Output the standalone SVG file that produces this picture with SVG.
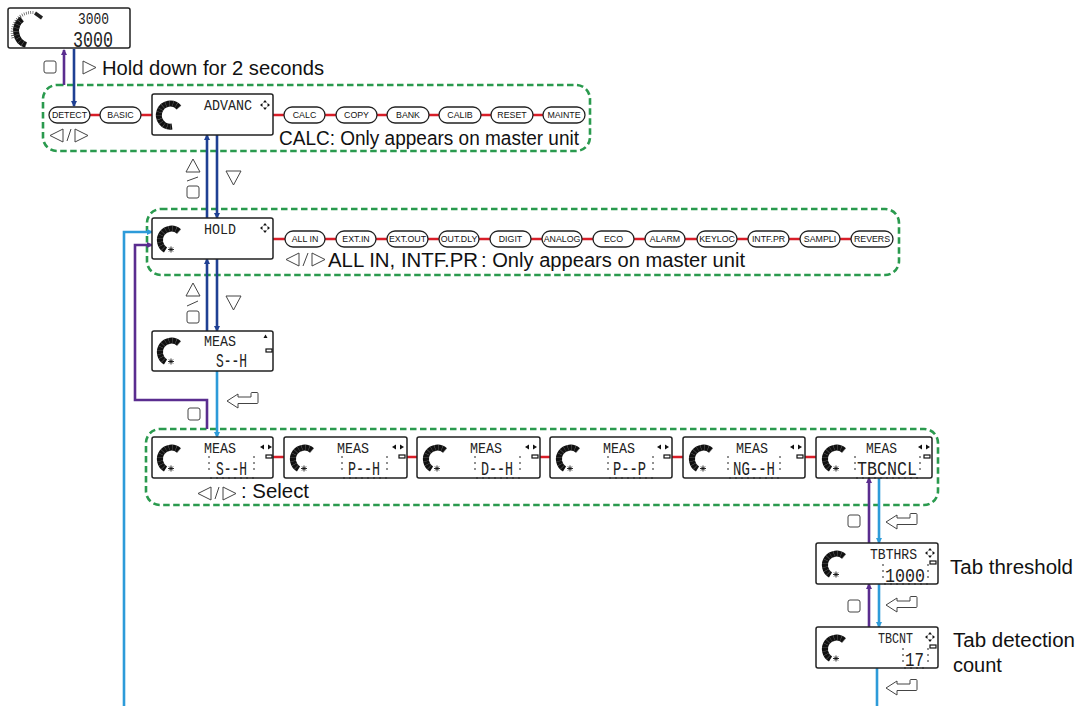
<svg xmlns="http://www.w3.org/2000/svg" width="1078" height="706" viewBox="0 0 1078 706">
<style>
text{font-family:"Liberation Sans",Arial,sans-serif;fill:#111}
.lbl{font-size:20px}
.pill{font-size:8.800px;text-anchor:middle}
.lcd{font-family:"Liberation Mono",monospace;fill:#222}
.t{font-size:14px}
.v{font-size:20px}
.box{fill:#fff;stroke:#222;stroke-width:1.500}
.ov{fill:#fff;stroke:#222;stroke-width:1.300}
.grp{fill:none;stroke:#2a9a4e;stroke-width:2.600;stroke-dasharray:6.500 3.500}
.red{stroke:#d81e28;stroke-width:2.600;fill:none}
.navy{stroke:#1f4093;stroke-width:2.600;fill:none}
.pur{stroke:#5a2d8f;stroke-width:2.600;fill:none}
.sky{stroke:#2d9bd9;stroke-width:2.600;fill:none}
.ic{fill:#fff;stroke:#444;stroke-width:1;stroke-linejoin:round}
.sl{stroke:#444;stroke-width:1;fill:none}
.gauge{fill:none;stroke:#111;stroke-width:6}
.gt{fill:none;stroke:#999;stroke-width:6;stroke-dasharray:.3 3.200}
.star{stroke:#111;stroke-width:.9;fill:none}
.fl{stroke:#222;stroke-width:1;fill:none;stroke-dasharray:2 4}
.k{fill:#111;stroke:none}
.r{fill:#fff;stroke:#111;stroke-width:1.200}
</style>
<defs>
<marker id="mN" markerWidth="6" markerHeight="6" refX="5" refY="3" orient="auto" markerUnits="userSpaceOnUse"><path d="M0 0L6 3L0 6Z" fill="#1f4093"/></marker>
<marker id="mP" markerWidth="6" markerHeight="6" refX="5" refY="3" orient="auto" markerUnits="userSpaceOnUse"><path d="M0 0L6 3L0 6Z" fill="#5a2d8f"/></marker>
<marker id="mS" markerWidth="6" markerHeight="6" refX="5" refY="3" orient="auto" markerUnits="userSpaceOnUse"><path d="M0 0L6 3L0 6Z" fill="#2d9bd9"/></marker>
<g id="g"><path class="gauge" d="M27 13.500A11.500 11.500 0 1 0 13.500 32"/><path class="gt" d="M27 13.500A11.500 11.500 0 1 0 13.500 32"/><path class="star" d="M16 31.500h6M19 28.500v6M17 29.500l4 4M21 29.500l-4 4"/></g>
<g id="g2"><path class="gauge" d="M27 13.500A11.500 11.500 0 1 0 20 32.500"/><path class="gt" d="M27 13.500A11.500 11.500 0 1 0 20 32.500"/></g>
<rect id="sq" class="ic" width="12" height="12" rx="2"/>
<path id="up" class="ic" d="M7 0L14 13H0Z"/>
<path id="dn" class="ic" d="M0 0H15L7.500 14Z"/>
<path id="rt" class="ic" d="M0 0L13 6.500L0 13Z"/>
<path id="lf" class="ic" d="M13 0L0 6.500L13 13Z"/>
<path id="en" class="ic" d="M0 0L11 -7V-4H24V-7.500Q24 -8.500 25 -8.500H30Q31 -8.500 31 -7.500V1.500Q31 2.500 30 2.500H11V7Z"/>
<g id="lr"><path class="k" d="M0 3L4 .5V5.500Z"/><path class="k" d="M8 .5L12 3L8 5.500Z"/></g>
<g id="four"><path class="k" d="M5 0L7 2.500H3ZM5 10L7 7.500H3ZM0 5L2.500 3V7ZM10 5L7.500 3V7Z"/></g>
<rect id="rtn" class="r" width="6" height="3"/>
</defs>

<g id="groups">
<rect class="grp" x="43" y="85" width="547" height="66" rx="14"/>
<rect class="grp" x="147" y="209" width="752" height="66" rx="14"/>
<rect class="grp" x="146" y="429" width="792" height="76" rx="14"/>
</g>

<g id="connectors">
<path class="red" d="M90 115H100M141 115H152M273 115H284M325 115H336M377 115H387M429 115H439M481 115H491M533 115H543"/>
<path class="red" d="M273 239H285M325 239H336M376 239H387M428 239H439M479 239H490M531 239H542M582 239H593M634 239H645M685 239H697M737 239H748M789 239H800M840 239H851"/>
<path class="red" d="M273 457H284M407 457H417M540 457H550M672 457H683M805 457H816"/>
<path class="pur" d="M64 85V50" marker-end="url(#mP)"/>
<path class="navy" d="M74 49V106" marker-end="url(#mN)"/>
<path class="navy" d="M207 218V135" marker-end="url(#mN)"/>
<path class="navy" d="M217 135V218" marker-end="url(#mN)"/>
<path class="navy" d="M207 331V259" marker-end="url(#mN)"/>
<path class="navy" d="M217 259V331" marker-end="url(#mN)"/>
<path class="sky" d="M217 371V437" marker-end="url(#mS)"/>
<path class="pur" d="M207 429V400H135V245H152" marker-end="url(#mP)"/>
<path class="sky" d="M124 706V232H152" marker-end="url(#mS)"/>
<path class="pur" d="M869 543V478" marker-end="url(#mP)"/>
<path class="sky" d="M879 478V543" marker-end="url(#mS)"/>
<path class="pur" d="M869 627V584" marker-end="url(#mP)"/>
<path class="sky" d="M879 584V627" marker-end="url(#mS)"/>
<path class="sky" d="M877 668V706"/>
</g>

<g id="node-monitor">
<rect class="box" x="8" y="8" width="122" height="40" rx="2"/>
<path class="gauge" d="M22 19A15 15 0 0 0 26 45"/>
<path class="gt" d="M22 19A15 15 0 0 0 26 45"/>
<path fill="none" stroke="#333" stroke-width="3" stroke-dasharray=".6 1.600" d="M13 38A20 20 0 0 1 34 12.500"/>
<path fill="none" stroke="#222" stroke-width="3.500" d="M35 13L42 18"/>
<text class="lcd" x="78" y="24" font-size="16" textLength="31" lengthAdjust="spacingAndGlyphs">3000</text>
<text class="lcd" x="73" y="47" font-size="22" textLength="40" lengthAdjust="spacingAndGlyphs">3000</text>
</g>

<g id="node-advanc">
<rect class="box" x="152" y="94" width="121" height="41" rx="2"/>
<use href="#g2" x="152" y="94"/>
<text class="lcd t" x="204" y="110" textLength="48" lengthAdjust="spacingAndGlyphs">ADVANC</text>
<use href="#four" x="260" y="100"/>
</g>

<g id="pills-a">
<g id="p-detect"><rect class="ov" x="49" y="107" width="41" height="16" rx="8"/><text class="pill" x="69.500" y="118">DETECT</text></g>
<g id="p-basic"><rect class="ov" x="100" y="107" width="41" height="16" rx="8"/><text class="pill" x="120.500" y="118">BASIC</text></g>
<g id="p-calc"><rect class="ov" x="284" y="107" width="41" height="16" rx="8"/><text class="pill" x="304.500" y="118">CALC</text></g>
<g id="p-copy"><rect class="ov" x="336" y="107" width="41" height="16" rx="8"/><text class="pill" x="356.500" y="118">COPY</text></g>
<g id="p-bank"><rect class="ov" x="387" y="107" width="42" height="16" rx="8"/><text class="pill" x="408" y="118">BANK</text></g>
<g id="p-calib"><rect class="ov" x="439" y="107" width="42" height="16" rx="8"/><text class="pill" x="460" y="118">CALIB</text></g>
<g id="p-reset"><rect class="ov" x="491" y="107" width="42" height="16" rx="8"/><text class="pill" x="512" y="118">RESET</text></g>
<g id="p-mainte"><rect class="ov" x="543" y="107" width="42" height="16" rx="8"/><text class="pill" x="564" y="118">MAINTE</text></g>
</g>

<g id="node-hold">
<rect class="box" x="152" y="218" width="121" height="41" rx="2"/>
<use href="#g" x="152" y="218"/>
<text class="lcd t" x="204" y="234" textLength="32" lengthAdjust="spacingAndGlyphs">HOLD</text>
<use href="#four" x="260" y="223"/>
</g>

<g id="pills-b">
<g id="p-allin"><rect class="ov" x="285" y="231" width="40" height="16" rx="8"/><text class="pill" x="305" y="242">ALL IN</text></g>
<g id="p-extin"><rect class="ov" x="336" y="231" width="40" height="16" rx="8"/><text class="pill" x="356" y="242">EXT.IN</text></g>
<g id="p-extout"><rect class="ov" x="387" y="231" width="41" height="16" rx="8"/><text class="pill" x="407.500" y="242">EXT.OUT</text></g>
<g id="p-outdly"><rect class="ov" x="439" y="231" width="40" height="16" rx="8"/><text class="pill" x="459" y="242">OUT.DLY</text></g>
<g id="p-digit"><rect class="ov" x="490" y="231" width="41" height="16" rx="8"/><text class="pill" x="510.500" y="242">DIGIT</text></g>
<g id="p-analog"><rect class="ov" x="542" y="231" width="40" height="16" rx="8"/><text class="pill" x="562" y="242">ANALOG</text></g>
<g id="p-eco"><rect class="ov" x="593" y="231" width="41" height="16" rx="8"/><text class="pill" x="613.500" y="242">ECO</text></g>
<g id="p-alarm"><rect class="ov" x="645" y="231" width="40" height="16" rx="8"/><text class="pill" x="665" y="242">ALARM</text></g>
<g id="p-keyloc"><rect class="ov" x="697" y="231" width="40" height="16" rx="8"/><text class="pill" x="717" y="242">KEYLOC</text></g>
<g id="p-intfpr"><rect class="ov" x="748" y="231" width="41" height="16" rx="8"/><text class="pill" x="768.500" y="242">INTF.PR</text></g>
<g id="p-sampli"><rect class="ov" x="800" y="231" width="40" height="16" rx="8"/><text class="pill" x="820" y="242">SAMPLI</text></g>
<g id="p-revers"><rect class="ov" x="851" y="231" width="42" height="16" rx="8"/><text class="pill" x="872" y="242">REVERS</text></g>
</g>

<g id="node-meas">
<rect class="box" x="152" y="331" width="121" height="40" rx="2"/>
<use href="#g" x="152" y="330"/>
<text class="lcd t" x="204" y="346" textLength="32" lengthAdjust="spacingAndGlyphs">MEAS</text>
<text class="lcd v" x="216" y="367" textLength="31" lengthAdjust="spacingAndGlyphs">S--H</text>
<path class="k" d="M263.500 338L265.500 334.500L267.500 338Z"/>
<use href="#rtn" x="266" y="349"/>
</g>

<g id="node-s1">
<rect class="box" x="152" y="437" width="121" height="41" rx="2"/>
<use href="#g" x="152" y="437"/>
<text class="lcd t" x="204" y="453" textLength="32" lengthAdjust="spacingAndGlyphs">MEAS</text>
<text class="lcd v" x="216" y="475" textLength="31" lengthAdjust="spacingAndGlyphs">S--H</text>
<path class="fl" d="M209 456V474M254 456V474M210 478H254"/>
<use href="#lr" x="260" y="444"/><use href="#rtn" x="266" y="455"/>
</g>
<g id="node-s2">
<rect class="box" x="284" y="437" width="123" height="41" rx="2"/>
<use href="#g" x="285" y="437"/>
<text class="lcd t" x="337" y="453" textLength="32" lengthAdjust="spacingAndGlyphs">MEAS</text>
<text class="lcd v" x="348" y="475" textLength="32" lengthAdjust="spacingAndGlyphs">P--H</text>
<path class="fl" d="M342 456V474M387 456V474M343 478H387"/>
<use href="#lr" x="392" y="444"/><use href="#rtn" x="399" y="455"/>
</g>
<g id="node-s3">
<rect class="box" x="417" y="437" width="123" height="41" rx="2"/>
<use href="#g" x="418" y="437"/>
<text class="lcd t" x="470" y="453" textLength="32" lengthAdjust="spacingAndGlyphs">MEAS</text>
<text class="lcd v" x="481" y="475" textLength="32" lengthAdjust="spacingAndGlyphs">D--H</text>
<path class="fl" d="M475 456V474M520 456V474M476 478H520"/>
<use href="#lr" x="525" y="444"/><use href="#rtn" x="532" y="455"/>
</g>
<g id="node-s4">
<rect class="box" x="550" y="437" width="122" height="41" rx="2"/>
<use href="#g" x="551" y="437"/>
<text class="lcd t" x="603" y="453" textLength="32" lengthAdjust="spacingAndGlyphs">MEAS</text>
<text class="lcd v" x="613" y="475" textLength="33" lengthAdjust="spacingAndGlyphs">P--P</text>
<path class="fl" d="M608 456V474M653 456V474M609 478H653"/>
<use href="#lr" x="657" y="444"/><use href="#rtn" x="664" y="455"/>
</g>
<g id="node-s5">
<rect class="box" x="683" y="437" width="122" height="41" rx="2"/>
<use href="#g" x="684" y="437"/>
<text class="lcd t" x="736" y="453" textLength="32" lengthAdjust="spacingAndGlyphs">MEAS</text>
<text class="lcd v" x="733" y="475" textLength="42" lengthAdjust="spacingAndGlyphs">NG--H</text>
<path class="fl" d="M728 456V474M780 456V474M729 478H780"/>
<use href="#lr" x="790" y="444"/><use href="#rtn" x="797" y="455"/>
</g>
<g id="node-s6">
<rect class="box" x="816" y="437" width="116" height="41" rx="2"/>
<use href="#g" x="817" y="437"/>
<text class="lcd t" x="866" y="453" textLength="31" lengthAdjust="spacingAndGlyphs">MEAS</text>
<text class="lcd v" x="857" y="475" textLength="60" lengthAdjust="spacingAndGlyphs">TBCNCL</text>
<path class="fl" d="M855 456V474M920 456V474M856 478H920"/>
<use href="#lr" x="918" y="444"/><use href="#rtn" x="924" y="455"/>
</g>

<g id="node-thrs">
<rect class="box" x="816" y="543" width="122" height="41" rx="2"/>
<use href="#g" x="817" y="543"/>
<text class="lcd t" x="870" y="559" textLength="47" lengthAdjust="spacingAndGlyphs">TBTHRS</text>
<text class="lcd v" x="885" y="582" textLength="40" lengthAdjust="spacingAndGlyphs">1000</text>
<path class="fl" d="M883 564V582M928 564V582M884 584H928"/>
<use href="#four" x="925" y="548"/><use href="#rtn" x="930" y="561"/>
</g>

<g id="node-cnt">
<rect class="box" x="816" y="627" width="122" height="41" rx="2"/>
<use href="#g" x="817" y="627"/>
<text class="lcd t" x="878" y="643" textLength="35" lengthAdjust="spacingAndGlyphs">TBCNT</text>
<text class="lcd v" x="905" y="666" textLength="19" lengthAdjust="spacingAndGlyphs">17</text>
<path class="fl" d="M903 648V666M928 648V666M904 668H928"/>
<use href="#four" x="925" y="632"/><use href="#rtn" x="930" y="645"/>
</g>

<g id="icons">
<use href="#sq" x="44" y="61"/>
<use href="#rt" x="83" y="61"/>
<use href="#lf" x="50" y="129"/><path class="sl" d="M67 141L71 129"/><use href="#rt" x="75" y="129"/>
<use href="#up" x="186" y="159"/><path class="sl" d="M187 181L198 177"/><use href="#sq" x="187" y="186"/>
<use href="#dn" x="226" y="171"/>
<use href="#up" x="186" y="283"/><path class="sl" d="M187 306L198 301"/><use href="#sq" x="187" y="311"/>
<use href="#dn" x="226" y="296"/>
<use href="#lf" x="286" y="253"/><path class="sl" d="M303 266L308 253"/><use href="#rt" x="312" y="253"/>
<use href="#en" x="227" y="401"/>
<use href="#sq" x="188" y="408"/>
<use href="#lf" x="198" y="487"/><path class="sl" d="M215 499L219 487"/><use href="#rt" x="223" y="487"/>
<use href="#sq" x="848" y="515"/><use href="#en" x="886" y="522"/>
<use href="#sq" x="848" y="600"/><use href="#en" x="886" y="605"/>
<use href="#en" x="886" y="688"/>
</g>

<g id="labels">
<text class="lbl" x="102" y="75" textLength="222" lengthAdjust="spacingAndGlyphs">Hold down for 2 seconds</text>
<text class="lbl" x="279" y="145" textLength="300" lengthAdjust="spacingAndGlyphs">CALC: Only appears on master unit</text>
<text class="lbl" x="328" y="267" textLength="150" lengthAdjust="spacingAndGlyphs">ALL IN, INTF.PR</text>
<text class="lbl" x="481" y="267" textLength="264" lengthAdjust="spacingAndGlyphs">: Only appears on master unit</text>
<text class="lbl" x="241" y="498" textLength="68" lengthAdjust="spacingAndGlyphs">: Select</text>
<text class="lbl" x="950" y="574" textLength="123" lengthAdjust="spacingAndGlyphs">Tab threshold</text>
<text class="lbl" x="953" y="647" textLength="122" lengthAdjust="spacingAndGlyphs">Tab detection</text>
<text class="lbl" x="953" y="672">count</text>
</g>
</svg>
